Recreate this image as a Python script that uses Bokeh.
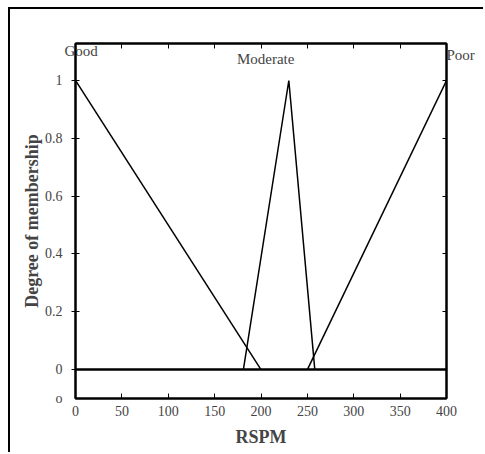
from bokeh.plotting import figure
from bokeh.models import Range1d, LinearAxis, Label, FixedTicker, Span, CustomJSTickFormatter
from bokeh.embed import file_html
from bokeh.resources import INLINE

# Data
good_x = [0, 200]
good_y = [1, 0]
moderate_x = [181, 230, 258]
moderate_y = [0, 1, 0]
poor_x = [250, 400]
poor_y = [0, 1]
x_ticks = [0, 50, 100, 150, 200, 250, 300, 350, 400]
y_ticks = [0, 0.2, 0.4, 0.6, 0.8, 1]
y_tick_labels = {-0.1: "o", 0: "0", 0.2: "0.2", 0.4: "0.4", 0.6: "0.6", 0.8: "0.8", 1: "1"}
set_names = ["Good", "Moderate", "Poor"]
good_pos = {6: "Good"}
poor_pos = {1.087: "Poor"}

FONT = "Liberation Serif"

p = figure(width=475, height=445, output_backend="svg", toolbar_location=None,
           x_range=Range1d(0, 400), y_range=Range1d(-0.1, 1.128),
           y_axis_location=None,
           min_border_left=65, min_border_right=39, min_border_top=34, min_border_bottom=56)
p.styles = {"border-left": "2px solid black", "border-top": "2px solid black",
            "margin-left": "8px", "margin-top": "7px"}
p.grid.visible = False
p.outline_line_color = "black"
p.outline_line_width = 2
p.background_fill_color = "white"
p.border_fill_color = "white"

blank = CustomJSTickFormatter(code="return ''")

# bottom axis
xa = p.xaxis[0]
xa.ticker = FixedTicker(ticks=x_ticks)
xa.major_tick_in = 5
xa.major_tick_out = 0
xa.minor_tick_line_color = None
xa.axis_line_width = 2
xa.major_label_text_font = FONT
xa.major_label_text_font_size = "14px"
xa.major_label_standoff = 7
xa.axis_label = "RSPM"
xa.axis_label_text_font = FONT
xa.axis_label_text_font_style = "bold"
xa.axis_label_text_font_size = "18px"
xa.axis_label_standoff = 8

# left: ticks (nearest the frame), then labels
l1 = LinearAxis(ticker=FixedTicker(ticks=y_ticks), formatter=blank, major_tick_in=4, major_tick_out=4,
                minor_tick_line_color=None, axis_line_width=2, major_label_standoff=0)
p.add_layout(l1, "left")
l2 = LinearAxis(ticker=FixedTicker(ticks=list(y_tick_labels.keys())),
                major_label_overrides=y_tick_labels, major_tick_line_color=None, minor_tick_line_color=None,
                axis_line_color=None, major_label_text_font=FONT, major_label_text_font_size="14px",
                major_label_standoff=3,
                axis_label="Degree of membership", axis_label_text_font=FONT,
                axis_label_text_font_style="bold", axis_label_text_font_size="18px",
                axis_label_standoff=0)
p.add_layout(l2, "left")

# top: ticks, then the first set name
t1 = LinearAxis(ticker=FixedTicker(ticks=x_ticks), formatter=blank, major_tick_in=5, major_tick_out=0,
                minor_tick_line_color=None, axis_line_width=2, major_label_standoff=0)
p.add_layout(t1, "above")
t2 = LinearAxis(ticker=FixedTicker(ticks=list(good_pos.keys())),
                major_label_overrides=good_pos, major_tick_line_color=None, minor_tick_line_color=None,
                axis_line_color=None, major_label_text_font=FONT, major_label_text_font_size="15px",
                major_label_standoff=-21)
p.add_layout(t2, "above")

# right: ticks, then the last set name
r1 = LinearAxis(ticker=FixedTicker(ticks=y_ticks), formatter=blank, major_tick_in=4, major_tick_out=0,
                minor_tick_line_color=None, axis_line_width=2, major_label_standoff=0)
p.add_layout(r1, "right")
r2 = LinearAxis(ticker=FixedTicker(ticks=list(poor_pos.keys())),
                major_label_overrides=poor_pos, major_tick_line_color=None, minor_tick_line_color=None,
                axis_line_color=None, major_label_text_font=FONT, major_label_text_font_size="15px",
                major_label_standoff=-6)
p.add_layout(r2, "right")

# zero line
p.add_layout(Span(location=0, dimension="width", line_color="black", line_width=2.5))

p.line(good_x, good_y, line_color="black", line_width=1.5)
p.line(moderate_x, moderate_y, line_color="black", line_width=1.5)
p.line(poor_x, poor_y, line_color="black", line_width=1.5)

p.add_layout(Label(x=205, y=1.075, text=set_names[1], text_font=FONT, text_font_size="15px",
                   text_baseline="middle", text_align="center"))

open("out.html", "w").write(file_html(p, INLINE))
